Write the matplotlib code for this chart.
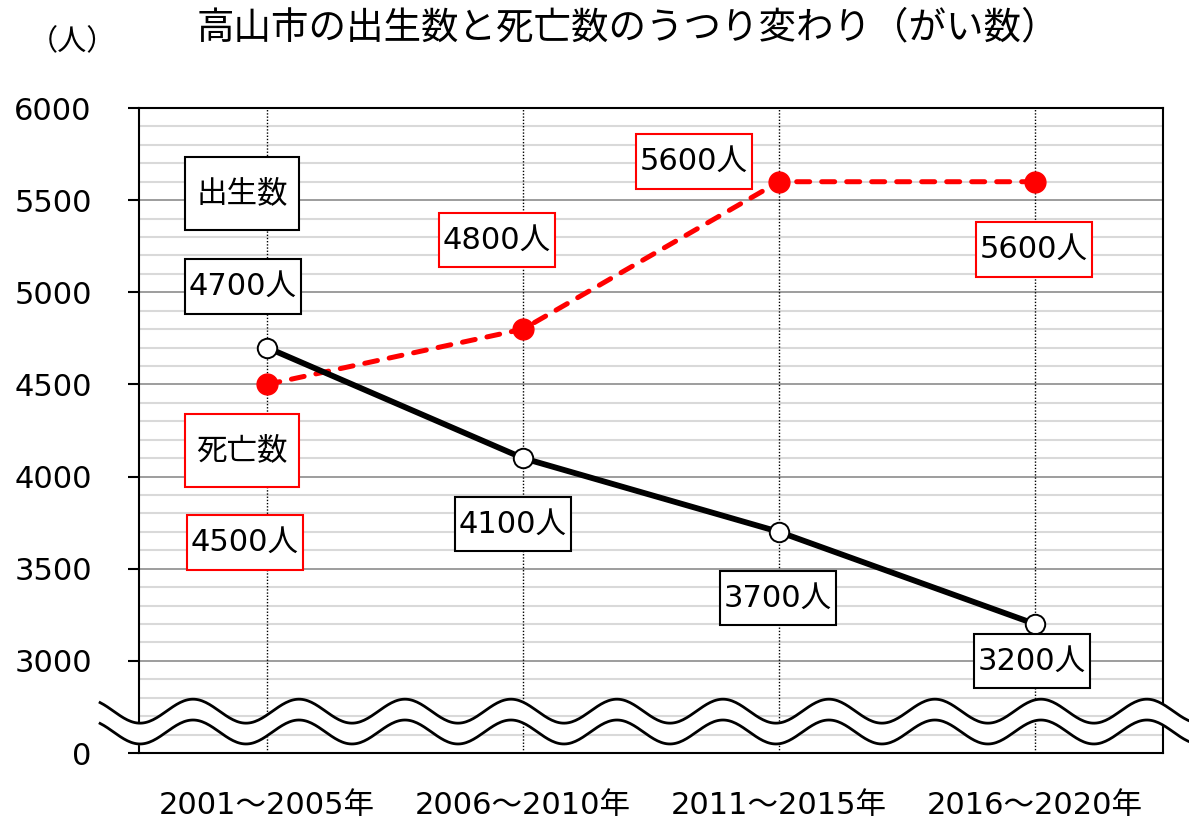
import numpy as np
import matplotlib
matplotlib.use("Agg")
import matplotlib.pyplot as plt
from matplotlib.path import Path

plt.rcParams['font.family'] = ['DejaVu Sans', 'Noto Sans CJK JP']

periods = ['2001～2005年', '2006～2010年', '2011～2015年', '2016～2020年']
births = [4700, 4100, 3700, 3200]
deaths = [4500, 4800, 5600, 5600]

# where the value boxes sit, in pixels from each point
birth_off = [(-24, 61), (-10, -66), (-1, -66), (-3, -37)]
death_off = [(-22, -158), (-26, 89), (-85, 20), (-1, -68)]

yticks = [2500, 3000, 3500, 4000, 4500, 5000, 5500, 6000]
ytick_labels = ['0', '3000', '3500', '4000', '4500', '5000', '5500', '6000']


def box(padx, pady):
    # square box with separate x / y padding (fractions of font size)
    def f(x0, y0, w, h, m):
        px, py = padx * m, pady * m
        x0, y0 = x0 - px, y0 - py
        x1, y1 = x0 + w + 2 * px, y0 + h + 2 * py
        return Path([(x0, y0), (x1, y0), (x1, y1), (x0, y1), (x0, y0)], closed=True)
    return f


fig = plt.figure(figsize=(11.89, 8.22), dpi=100)
ax = fig.add_axes([139/1189, 1 - 753/822, (1163-139)/1189, (753-108)/822])

x = np.arange(len(periods))
ax.set_xlim(-0.5, 3.5)
ax.set_ylim(2500, 6000)

# grid
for v in range(2600, 6000, 100):
    if v % 500:
        ax.axhline(v, color='#d9d9d9', lw=1.5, zorder=1)
for v in range(3000, 6000, 500):
    ax.axhline(v, color='#8c8c8c', lw=1.2, zorder=1.2)
for xi in x:
    ax.axvline(xi, color='black', lw=1, ls=(0, (1, 1.3)), zorder=1.5)

for s in ax.spines.values():
    s.set_color('black')
    s.set_linewidth(1.5)

ax.set_xticks(x)
ax.set_xticklabels(periods, fontsize=22)
ax.tick_params(axis='x', length=0, pad=27)
ax.set_yticks(yticks)
ax.set_yticklabels(ytick_labels, fontsize=22)
ax.tick_params(axis='y', length=8, width=1.5, pad=26)

# lines
ax.plot(x, births, color='black', lw=4.2, marker='o', ms=14,
        mfc='white', mec='black', mew=1.4, zorder=7)
ax.plot(x, deaths, color='red', lw=3.6, dashes=(2.6, 2.4),
        dash_capstyle='round', marker='o', ms=15, mfc='red', mec='red', zorder=6)

for xi, v, off in zip(x, births, birth_off):
    ax.annotate(f'{v}人', (xi, v), xytext=(off[0]*0.72, off[1]*0.72),
                textcoords='offset points', ha='center', va='center', fontsize=22,
                bbox=dict(boxstyle=box(0.14, 0.42), fc='white', ec='black', lw=1.5),
                zorder=8)
for xi, v, off in zip(x, deaths, death_off):
    ax.annotate(f'{v}人', (xi, v), xytext=(off[0]*0.72, off[1]*0.72),
                textcoords='offset points', ha='center', va='center', fontsize=22,
                bbox=dict(boxstyle=box(0.14, 0.42), fc='white', ec='red', lw=1.5),
                zorder=8)

ax.text(-0.098, 5534, '出生数', ha='center', va='center', fontsize=22, zorder=8,
        bbox=dict(boxstyle=box(0.36, 0.72), fc='white', ec='black', lw=1.5))
ax.text(-0.098, 4142, '死亡数', ha='center', va='center', fontsize=22, zorder=8,
        bbox=dict(boxstyle=box(0.36, 0.72), fc='white', ec='red', lw=1.5))

# wavy break
wx = np.linspace(-0.652, 3.61, 600)
w1 = 2727 - 65 * np.cos(2 * np.pi * (wx + 0.496) / 0.414)
w2 = w1 - 113
ax.fill_between(wx, w2, w1, color='white', zorder=5, clip_on=False)
ax.plot(wx, w1, color='black', lw=2.0, zorder=5.5, clip_on=False)
ax.plot(wx, w2, color='black', lw=2.0, zorder=5.5, clip_on=False)

fig.text(628/1189, 1 - 28/822, '高山市の出生数と死亡数のうつり変わり（がい数）',
         ha='center', va='center', fontsize=27)
fig.text(72/1189, 1 - 42/822, '（人）', ha='center', va='center', fontsize=21)

fig.savefig('out.png', dpi=100)
